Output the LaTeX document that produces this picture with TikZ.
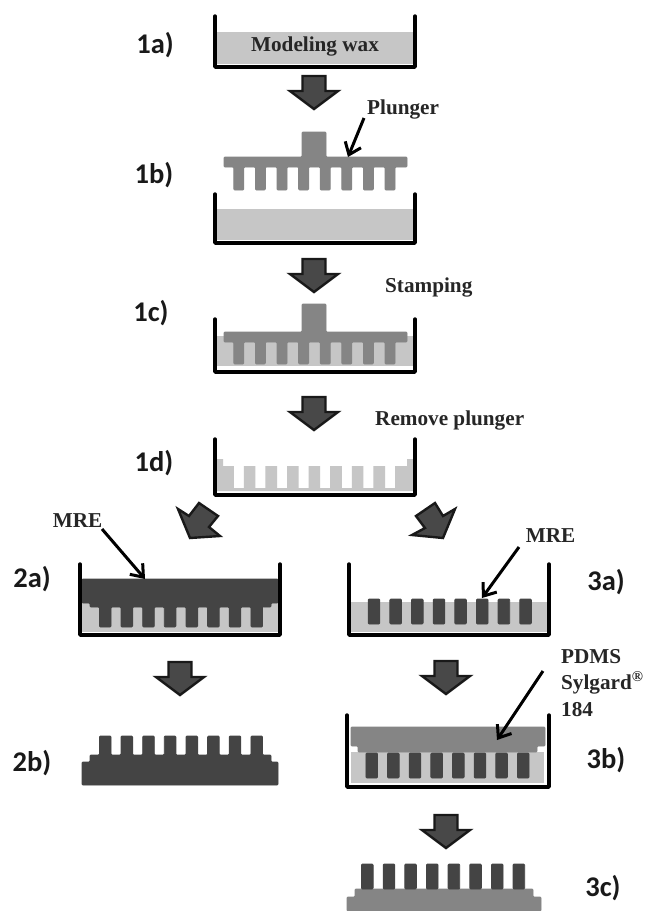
\documentclass[tikz,border=0pt]{standalone}
\usepackage{fontspec}
\usetikzlibrary{arrows.meta}
\setmainfont{Liberation Serif}
\newfontfamily\labfont{Carlito}
\definecolor{waxc}{HTML}{C6C6C6}
\definecolor{plungc}{HTML}{858585}
\definecolor{mrec}{HTML}{444444}
\definecolor{blockc}{HTML}{484848}
\tikzset{
  wall/.style={draw=black,line width=3.4pt,line cap=round,line join=round},
  wax/.style={fill=waxc,draw=none},
  plung/.style={fill=plungc,draw=plungc,line width=0.8pt,line join=round,rounded corners=1pt},
  mre/.style={fill=mrec,draw=mrec,line width=0.8pt,line join=round,rounded corners=1pt},
  block/.style={fill=blockc,draw=black!90,line width=2.4pt,line join=miter},
  steplabel/.style={font=\labfont\bfseries\fontsize{28.5}{30}\selectfont,inner sep=0pt,text=black!90},
  caption/.style={font=\bfseries\fontsize{21.2}{26}\selectfont,inner sep=0pt,text=black!85},
  pointer/.style={draw=black,line width=3pt,-{Straight Barb[length=11pt,width=17pt,line width=3pt]}},
  pics/downblock/.style={code={
    \path[block] (-11.5,0) -- (11.5,0) -- (11.5,15) -- (24,15) -- (0,33) -- (-24,15) -- (-11.5,15) -- cycle;
  }},
  pics/tray/.style args={#1/#2}{code={
    \draw[wall] (0,0) -- (0,#2) -- (#1,#2) -- (#1,0);
  }}
}
\newcommand{\toothrow}[3]{%
  \foreach \k in {0,...,7} {\path[mre] ({#1+21.65*\k-5.8},#2) rectangle ({#1+21.65*\k+5.8},#3);}%
}
\begin{document}
\begin{tikzpicture}[x=1pt,y=-1pt]
\useasboundingbox (0,0) rectangle (646,911);
\fill[white] (0,0) rectangle (646,911);

% 1a
\path[wax] (216,32) rectangle (414,64);
\pic at (215,16) {tray={200/51}};
\node[caption] (tw) at (315,46) {Modeling wax};
\node[steplabel] (l1a) at (155,45) {1a)};
\pic at (314,76) {downblock};

% 1b
\path[plung] (302,132) -- (326,132) -- (326,157) -- (407,157) -- (407,167)
  \foreach \c in {390,368.4,346.8,325.2,303.6,282,260.4,238.8} { -- ({\c+5},167) -- ({\c+5},190) -- ({\c-5},190) -- ({\c-5},167) }
  -- (224,167) -- (224,157) -- (302,157) -- cycle;
\path[wax] (216,209) rectangle (414,240);
\pic at (215,194) {tray={200/49}};
\node[caption,anchor=west] (tp) at (367,109) {Plunger};
\node[steplabel] (l1b) at (154,175) {1b)};
\coordinate (p1s) at (364,118);
\coordinate (p1e) at (348,157);
\draw[pointer] (p1s) -- (p1e);
\pic at (314,259) {downblock};

% 1c
\node[caption,anchor=west] (ts) at (385,287) {Stamping};
\path[wax] (216,336) rectangle (414,366);
\path[plung] (302,304) -- (326,304) -- (326,332) -- (407,332) -- (407,342)
  \foreach \c in {390,368.4,346.8,325.2,303.6,282,260.4,238.8} { -- ({\c+5},342) -- ({\c+5},364) -- ({\c-5},364) -- ({\c-5},342) }
  -- (224,342) -- (224,332) -- (302,332) -- cycle;
\pic at (215,319) {tray={200/53}};
\node[steplabel] (l1c) at (151,313) {1c)};
\pic at (314,397) {downblock};

% 1d
\node[caption,anchor=west] (tr) at (375,420) {Remove plunger};
\path[wax] (217,459) -- (223,459) -- (223,466)
  \foreach \c in {238.8,260.4,282,303.6,325.2,346.8,368.4,390} { -- ({\c-5},466) -- ({\c-5},488) -- ({\c+5},488) -- ({\c+5},466) }
  -- (407,466) -- (407,459) -- (413,459) -- (413,491) -- (217,491) -- cycle;
\pic at (215,439) {tray={200/56}};
\node[steplabel] (l1d) at (154,463) {1d)};

% splitting arrows
\path[block] (199,503) -- (218,516) -- (209,527) -- (220,536) -- (190,538) -- (178,509) -- (189,516) -- cycle;
\path[block] (435,503) -- (416,516) -- (425,528) -- (412,535) -- (443,538) -- (455,509) -- (443,516) -- cycle;

% 2a
\path[wax] (82,603) -- (278,603) -- (278,632) -- (82,632) -- cycle;
\path[mre] (82,579) -- (278,579) -- (278,603) -- (271,603) -- (271,607) -- (262.5,607)
  \foreach \c in {256.7,235,213.4,191.8,170.1,148.5,126.8,105.2} { -- ({\c+5.8},607) -- ({\c+5.8},627) -- ({\c-5.8},627) -- ({\c-5.8},607) }
  -- (90,607) -- (90,603) -- (82,603) -- cycle;
\pic at (80,564) {tray={200/71}};
\node[steplabel] (l2a) at (32,579) {2a)};
\node[caption] (tm1) at (77.5,521) {MRE};
\coordinate (m1s) at (102,529);
\coordinate (m1e) at (145,579);
\draw[pointer] (m1s) -- (m1e);
\pic at (180,662) {downblock};

% 2b
\path[mre] (82,762) -- (90,762) -- (90,755) -- (99.4,755)
  \foreach \c in {105.2,126.8,148.5,170.1,191.8,213.4,235,256.7} { -- ({\c-5.8},755) -- ({\c-5.8},736) -- ({\c+5.8},736) -- ({\c+5.8},755) }
  -- (271,755) -- (271,762) -- (278,762) -- (278,785) -- (82,785) -- cycle;
\node[steplabel] (l2b) at (32,763) {2b)};

% 3a
\path[wax] (351,602) rectangle (547,632);
\toothrow{374}{599}{624}
\pic at (349,564) {tray={200/71}};
\node[steplabel] (l3a) at (606,582) {3a)};
\node[caption] (tm2) at (550.5,536) {MRE};
\coordinate (m2s) at (519,547);
\coordinate (m2e) at (482,598);
\draw[pointer] (m2s) -- (m2e);
\pic at (446,661) {downblock};

% 3b
\path[wax] (351,752) rectangle (544,783);
\path[plung] (351,727) -- (545,727) -- (545,746) -- (537,746) -- (537,752) -- (358,752) -- (358,746) -- (351,746) -- cycle;
\toothrow{371.7}{753}{778}
\pic at (347,715) {tray={202/72}};
\node[steplabel] (l3b) at (606,760) {3b)};
\node[caption,anchor=west] (tpd) at (561,657) {PDMS};
\node[caption,anchor=west] (tsy) at (561,683) {Sylgard\textsuperscript{\fontsize{15}{15}\selectfont\textregistered}};
\node[caption,anchor=west] (t18) at (561,710) {184};
\coordinate (d1s) at (543,671);
\coordinate (d1e) at (497,740);
\draw[pointer] (d1s) -- (d1e);
\pic at (446,815) {downblock};

% 3c
\path[plung] (355,889) -- (533,889) -- (533,897) -- (541,897) -- (541,911) -- (347,911) -- (347,897) -- (355,897) -- cycle;
\toothrow{367.3}{864}{889}
\node[steplabel] (l3c) at (603,888) {3c)};
\end{tikzpicture}
\end{document}
